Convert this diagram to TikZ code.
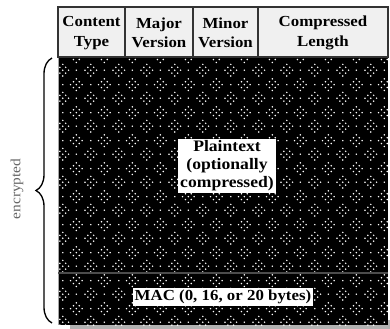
\documentclass[tikz,border=0pt]{standalone}
\usepackage{fontspec}
\setmainfont{Liberation Serif}[FakeStretch=1.1]
\usetikzlibrary{patterns.meta,decorations.pathreplacing}

\newcommand{\dd}[2]{\pgfpathcircle{\pgfpoint{#1pt}{#2pt}}{0.65pt}}
\newcommand{\dia}[2]{%
  \pgfmathsetmacro{\ca}{#1}\pgfmathsetmacro{\cb}{#2}%
  \pgfmathsetmacro{\xl}{#1-4.5}\pgfmathsetmacro{\xr}{#1+4.5}%
  \pgfmathsetmacro{\yl}{#2-4.5}\pgfmathsetmacro{\yr}{#2+4.5}%
  \pgfmathsetmacro{\xm}{#1-2.25}\pgfmathsetmacro{\xp}{#1+2.25}%
  \pgfmathsetmacro{\ym}{#2-2.25}\pgfmathsetmacro{\yp}{#2+2.25}%
  \dd{\ca}{\cb}\dd{\ca}{\yl}\dd{\ca}{\yr}\dd{\xl}{\cb}\dd{\xr}{\cb}%
  \dd{\xm}{\ym}\dd{\xp}{\ym}\dd{\xm}{\yp}\dd{\xp}{\yp}}
\pgfdeclarepattern{
  name=diadots, type=uncolored,
  bottom left={\pgfpoint{0pt}{0pt}},
  top right={\pgfpoint{21pt}{21pt}},
  tile size={\pgfpoint{21pt}{21pt}},
  code={
    \dia{5.25}{5.25}
    \dia{15.75}{15.75}
    \dd{15.75}{5.25}\dd{5.25}{15.75}
    \pgfusepath{fill}
  }
}

\begin{document}
\begin{tikzpicture}[x=0.75pt,y=-0.75pt,
  hdr/.style={align=center, font=\bfseries\fontsize{11.5}{14.5}\selectfont, inner sep=0pt},
  lbl/.style={align=center, fill=white, inner sep=1.5pt, font=\bfseries\fontsize{12}{13.5}\selectfont},
  frame/.style={draw=black!80, line width=1pt}]
\useasboundingbox (0,0) rectangle (390,329);
% shadow
\fill[gray!60] (70,320) rectangle (390,329);
% body
\fill[black] (58,57) rectangle (388,325);
\fill[pattern=diadots, pattern color=white] (58,57) rectangle (388,325);
\draw[gray!70, line width=0.6pt] (58,57) -- (58,325);
\draw[black!70!white, line width=1.2pt] (58,273) -- (388,273);
% header
\filldraw[fill=gray!12, frame] (58,7) rectangle (388,57);
\draw[frame] (125,7) -- (125,57) (193,7) -- (193,57) (258,7) -- (258,57);
\node[hdr] (ct) at (91.5,33) {Content\\Type};
\node[hdr] (maj) at (159,33) {Major\\Version};
\node[hdr] (min) at (225.5,33) {Minor\\Version};
\node[hdr] (len) at (323,33) {Compressed\\Length};
% labels
\node[lbl] (pt) at (227,166) {Plaintext\\(optionally\\compressed)};
\node[lbl, font=\bfseries\fontsize{11.5}{13}\selectfont] (mac) at (223,297) {MAC (0, 16, or 20 bytes)};
% brace
\coordinate (bt) at (52,58);
\coordinate (bb) at (52,323);
\draw[decorate, decoration={brace, amplitude=12pt}, line width=1pt] (bb) -- (bt);
\node[rotate=90, text=black!60, font=\fontsize{10.5}{12}\selectfont] (enc) at (17,189) {encrypted};
\end{tikzpicture}
\end{document}
